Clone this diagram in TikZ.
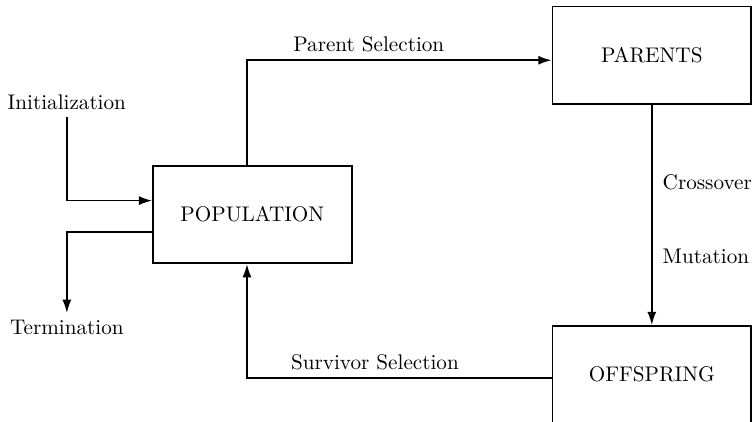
\documentclass[tikz,border=0pt]{standalone}
\usepackage{tikz}
\usetikzlibrary{arrows.meta,positioning,calc}
\tikzset{
    stage/.style={draw, thick, minimum width=33mm, minimum height=16.2mm, inner sep=0pt},
    flow/.style={thick, -{Latex[length=2.2mm, width=1.5mm]}},
}

\begin{document}
\begin{tikzpicture}
    \useasboundingbox (0,0) rectangle (125mm, 70mm);
    \node[stage] (population) at (41.9mm, 34.4mm) {POPULATION};
    \node[stage] (parents) at (108.2mm, 60.8mm) {PARENTS};
    \node[stage] (offspring) at (108.2mm, 7.8mm) {OFFSPRING};
    \node (init) at (11.1mm, 53.1mm) {Initialization};
    \node (term) at (11.1mm, 15.6mm) {Termination};
    \draw[flow] (init.south) |- ($(population.west)+(0,2.3mm)$);
    \draw[flow] ($(population.west)+(0,-2.9mm)$) -| (term.north);
    \draw[flow] ($(population.north)+(-0.9mm,0)$) |- ($(parents.west)+(0,-0.8mm)$)
        node[pos=0.7, above] {Parent Selection};
    \draw[flow] (parents) -- (offspring)
        node[pos=0.35, right, xshift=0.5mm] {Crossover}
        node[pos=0.69, right, xshift=0.5mm] {Mutation};
    \draw[flow] ($(offspring.west)+(0,-0.5mm)$) -| ($(population.south)+(-0.9mm,0)$)
        node[pos=0.29, above] {Survivor Selection};
\end{tikzpicture}
\end{document}
